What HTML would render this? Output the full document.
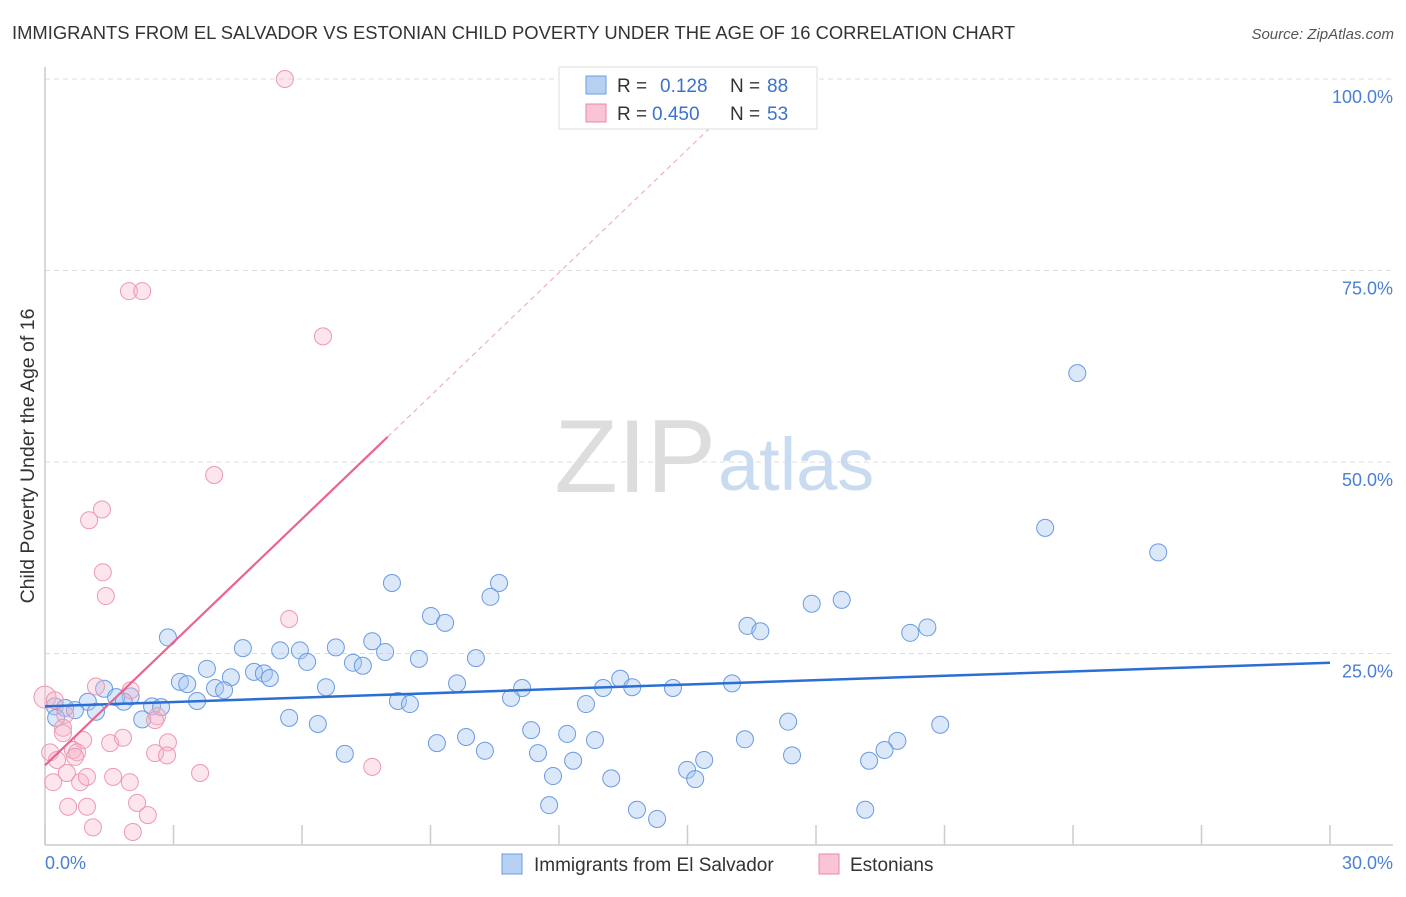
<!DOCTYPE html>
<html><head><meta charset="utf-8">
<style>
body{margin:0;background:#fff;font-family:"Liberation Sans",sans-serif;}
svg text{font-family:"Liberation Sans",sans-serif;}
</style></head>
<body>
<svg width="1406" height="892" viewBox="0 0 1406 892">
<text x="12" y="39" font-size="18.4" fill="#333">IMMIGRANTS FROM EL SALVADOR VS ESTONIAN CHILD POVERTY UNDER THE AGE OF 16 CORRELATION CHART</text>
<text x="1394" y="39" font-size="15" fill="#555" text-anchor="end" font-style="italic">Source: ZipAtlas.com</text>
<g id="grid"></g>
<text x="716" y="492" font-size="104" fill="#ddd" text-anchor="end" font-family="Liberation Serif">ZIP</text>
<text x="718" y="490" font-size="74" fill="#c9dbf1">atlas</text>
<g id="pts"></g>
<g id="lines"></g>
<text transform="translate(34,456) rotate(-90)" font-size="19.5" fill="#333" text-anchor="middle">Child Poverty Under the Age of 16</text>
<text x="45" y="869" font-size="18" fill="#4a7fd4">0.0%</text>
<text x="1393" y="869" font-size="18" fill="#4a7fd4" text-anchor="end">30.0%</text>
<g>
<rect x="559" y="67" width="258" height="62" fill="#fff" stroke="#ddd"/>
<rect x="586" y="76" width="20" height="18" fill="#b6d0f3" stroke="#6a9be0"/>
<rect x="586" y="104" width="20" height="18" fill="#f9c4d4" stroke="#e88aa8"/>
<text x="617" y="92" font-size="19" fill="#333">R = </text><text x="660" y="92" font-size="19" fill="#3a72d0">0.128</text>
<text x="730" y="92" font-size="19" fill="#333">N = </text><text x="767" y="92" font-size="19" fill="#3a72d0">88</text>
<text x="617" y="120" font-size="19" fill="#333">R = </text><text x="652" y="120" font-size="19" fill="#3a72d0">0.450</text>
<text x="730" y="120" font-size="19" fill="#333">N = </text><text x="767" y="120" font-size="19" fill="#3a72d0">53</text>
</g>
<g>
<rect x="502" y="854" width="20" height="20" fill="#b6d0f3" stroke="#6a9be0"/>
<text x="534" y="871" font-size="19" fill="#333">Immigrants from El Salvador</text>
<rect x="819" y="854" width="20" height="20" fill="#f9c4d4" stroke="#e88aa8"/>
<text x="850" y="871" font-size="19" fill="#333">Estonians</text>
</g>
</svg>
<script>
const yTicks=[100,75,50,25];
const yTickLabels=["100.0%","75.0%","50.0%","25.0%"];
const blueX=[24.1,23.35,25.99,2.87,8.10,10.6,10.4,9.01,9.34,17.9,18.6,16.4,16.7,20.2,20.6,4.62,5.49,5.95,6.79,7.64,7.94,6.12,7.19,7.42,8.73,10.06,3.78,4.34,4.88,5.11,5.25,3.15,3.32,3.97,4.18,6.56,9.62,11.14,13.43,13.03,13.71,14.66,16.04,1.38,2.0,1.66,1.0,1.84,3.55,2.5,2.71,8.24,8.52,10.88,12.63,0.23,0.47,0.70,1.19,0.26,2.27,5.7,6.37,17.35,20.9,11.35,12.19,12.84,9.15,9.83,16.34,19.9,19.6,7.0,10.27,11.51,17.44,15.39,12.33,19.24,14.99,11.86,13.22,15.18,11.77,13.82,14.29,19.15];
const blueY=[61.6,41.4,38.2,27.1,34.2,34.2,32.4,29.9,29.0,31.5,32.0,28.6,27.9,27.7,28.4,25.7,25.4,25.4,25.8,26.6,25.2,23.9,23.8,23.4,24.3,24.4,23.0,21.9,22.6,22.4,21.8,21.3,21.0,20.5,20.2,20.6,21.1,20.5,21.7,20.5,20.6,20.5,21.1,20.4,19.4,19.3,18.7,18.7,18.8,18.1,18.0,18.8,18.4,19.2,18.4,18.1,17.9,17.6,17.4,16.6,16.4,16.6,15.8,16.1,15.7,15.0,14.5,13.7,13.3,14.1,13.8,13.6,12.4,11.9,12.3,12.0,11.7,11.1,11.0,11.0,9.8,9.0,8.7,8.6,5.2,4.6,3.4,4.6];
const pinkX=[5.6,1.96,2.27,6.49,3.95,1.33,1.03,1.35,1.42,5.7,0,0.23,1.19,2.0,2.62,2.57,0.47,0.42,0.42,0.89,1.52,1.82,2.87,2.57,2.85,0.12,0.28,0.65,0.75,3.62,0.51,1.59,1.98,0.82,0.19,0.98,0.54,0.98,1.12,2.15,2.40,2.05,7.64,0.7];
const pinkY=[100,72.3,72.3,66.4,48.3,43.8,42.4,35.6,32.5,29.5,19.3,18.9,20.7,20.2,16.8,16.3,17.0,15.3,14.6,13.7,13.3,14.0,13.4,12.0,11.7,12.1,11.1,12.4,12.1,9.4,9.4,8.9,8.2,8.2,8.2,8.9,5.0,5.0,2.3,5.5,3.9,1.7,10.2,11.5];
const blueTrend=[18.1,23.8];
const pinkTrend=[10.4,5.36];
const NS="http://www.w3.org/2000/svg";
const X=v=>45+v/30*1285, Y=v=>845-v/100*766;
function mk(tag,attrs,parent){const e=document.createElementNS(NS,tag);for(const k in attrs)e.setAttribute(k,attrs[k]);parent.appendChild(e);return e;}
const grid=document.getElementById('grid');
yTicks.forEach((t,i)=>{
 const l=mk('line',{x1:45,x2:1393,y1:Y(t),y2:Y(t),stroke:'#ddd','stroke-dasharray':'5,4'},grid);
 
 
 const tx=mk('text',{x:1393,y:Y(t)+24,'font-size':18,fill:'#4a7fd4','text-anchor':'end'},grid);
 tx.textContent=yTickLabels[i];
 
 
});
for(let i=0;i<=10;i++){const l=mk('line',{x1:X(i*3),x2:X(i*3),y1:825,y2:845,stroke:'#ccc','stroke-width':1.5},grid);
 
 }
const ax=mk('line',{x1:45,x2:45,y1:67,y2:845,stroke:'#ccc','stroke-width':1.5},grid);


const bx=mk('line',{x1:45,x2:1393,y1:845,y2:845,stroke:'#ccc','stroke-width':1.5},grid);


const pts=document.getElementById('pts');
blueX.forEach((x,i)=>{const c=mk('circle',{cx:X(x),cy:Y(blueY[i]),r:8.5,fill:'rgba(165,198,240,0.4)',stroke:'#6a9be0','stroke-width':1},pts);
 
 });
pinkX.forEach((x,i)=>{const c=mk('circle',{cx:X(x),cy:Y(pinkY[i]),r:(i==10?11:8.5),fill:'rgba(245,180,200,0.35)',stroke:'#ec99b3','stroke-width':1},pts);
 
 });
const lines=document.getElementById('lines');
const bl=mk('line',{x1:X(0),y1:Y(blueTrend[0]),x2:X(30),y2:Y(blueTrend[1]),stroke:'#2b6fd6','stroke-width':2.5},lines);


const pl=mk('line',{x1:X(0),y1:Y(pinkTrend[0]),x2:X(8),y2:Y(pinkTrend[0]+pinkTrend[1]*8),stroke:'#e8658f','stroke-width':2.2},lines);


const pd=mk('line',{x1:X(8),y1:Y(pinkTrend[0]+pinkTrend[1]*8),x2:X(15.7),y2:Y(pinkTrend[0]+pinkTrend[1]*15.7),stroke:'#f0b0c4','stroke-width':1.2,'stroke-dasharray':'5,4'},lines);


</script>
</body></html>
